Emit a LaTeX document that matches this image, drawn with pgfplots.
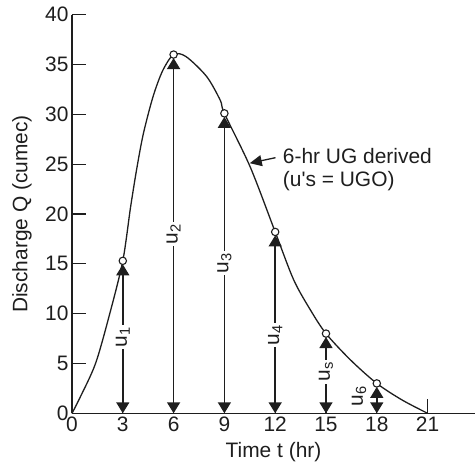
\documentclass[border=0pt]{standalone}
\usepackage{pgfplots}
\pgfplotsset{compat=1.18}
\usepackage{fontspec}
\setmainfont{Liberation Sans}
\usetikzlibrary{arrows.meta}
\definecolor{ink}{HTML}{1E1E1E}
\begin{document}
\begin{tikzpicture}[font=\fontsize{21}{25}\selectfont, color=ink]
\useasboundingbox (-72bp,-54.7bp) rectangle (403bp,413.3bp);
\begin{axis}[
  scale only axis,
  width=403bp, height=398.6bp,
  xmin=0, xmax=23.8, ymin=0, ymax=40,
  axis lines=left,
  axis line style={-, line width=1.5bp, ink},
  xtick={0,3,...,21}, ytick={0,5,...,40},
  tick align=inside,
  major tick length=14bp,
  tick style={line width=1.3bp, ink},
  /pgf/number format/assume math mode=true,
  xlabel={Time t (hr)},
  ylabel={Discharge Q (cumec)},
  xlabel style={at={(axis description cs:0.5,-0.0975)}, anchor=center},
  ylabel style={at={(axis description cs:-0.124,0.5)}, anchor=center},
  clip=false,
  >={Triangle[width=13bp,length=11bp]},
]
% hydrograph curve
\addplot[ink, line width=1.3bp, smooth, tension=0.5] coordinates {
  (0,0) (0.45,1.5) (1.39,5.0) (2.23,10.0) (3,15.3) (3.46,20.7) (3.84,24.7) (4.22,28.1)
  (4.79,31.8) (5.36,34.4) (6,36.0) (6.73,35.8) (7.95,33.8) (8.76,31.4)
  (9,30.1) (10.53,24.7) (12,18.2) (13.09,13.4) (14.07,10.4) (15,8.0)
  (16.45,5.35) (18,3.0) (19.5,1.33) (21,0)
};
% ordinates
\addplot[ink, line width=1.5bp, <->, shorten >=3.5bp] coordinates {(3,0) (3,15.3)}
  node[pos=0.5, rotate=90, fill=white, inner sep=2bp] {u\textsubscript{1}};
\addplot[ink, line width=1.5bp, <->, shorten >=3.5bp] coordinates {(6,0) (6,36.0)}
  node[pos=0.5, rotate=90, fill=white, inner sep=2bp] {u\textsubscript{2}};
\addplot[ink, line width=1.5bp, <->, shorten >=3.5bp] coordinates {(9,0) (9,30.1)}
  node[pos=0.5, rotate=90, fill=white, inner sep=2bp] {u\textsubscript{3}};
\addplot[ink, line width=1.5bp, <->, shorten >=3.5bp] coordinates {(12,0) (12,18.2)}
  node[pos=0.43, rotate=90, fill=white, inner sep=2bp] {u\textsubscript{4}};
\addplot[ink, line width=1.5bp, <->, shorten >=3.5bp] coordinates {(15,0) (15,8.0)}
  node[pos=0.52, rotate=90, fill=white, inner sep=2bp] {u\textsubscript{s}};
\addplot[ink, line width=1.5bp, <->, shorten >=3.5bp] coordinates {(18,0) (18,3.0)};
\node[rotate=90, inner sep=0pt] at (axis cs:16.95,1.75) {u\textsubscript{6}};
% points
\addplot[only marks, mark=*, mark size=3.7bp, mark options={fill=white, draw=ink, line width=1.1bp}]
  coordinates {(3,15.3) (6,36.0) (9,30.1) (12,18.2) (15,8.0) (18,3.0)};
% annotation
\coordinate (tip) at (axis cs:10.5,25.1);
\draw[ink, line width=1.3bp, {Triangle[width=11bp,length=12bp]}-] (tip) -- ++(25.7bp,5.5bp);
\node[anchor=base west, inner sep=0pt] at ([xshift=33bp]tip) {6-hr UG derived};
\node[anchor=base west, inner sep=0pt] at ([xshift=33bp,yshift=-23bp]tip) {(u\textquotesingle s = UGO)};
\end{axis}
\end{tikzpicture}
\end{document}
